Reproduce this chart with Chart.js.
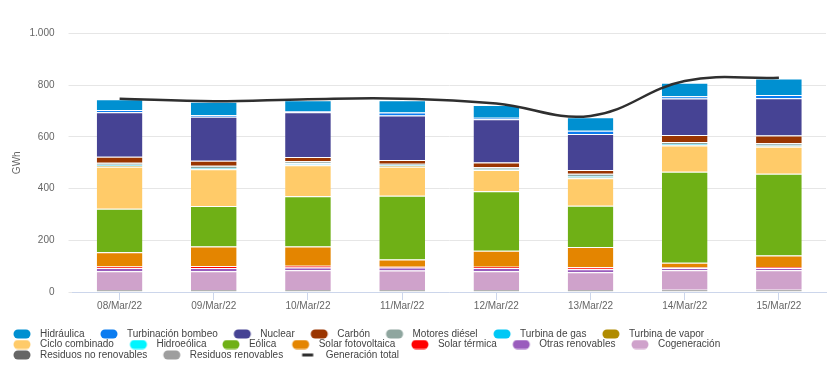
<!DOCTYPE html>
<html lang="es">
<head>
<meta charset="utf-8">
<title>Generación por tecnología</title>
<script src="https://cdn.jsdelivr.net/npm/chart.js@4/dist/chart.umd.min.js"></script>
<style>
  html, body { margin: 0; padding: 0; background: #fff; }
  #wrap { width: 833px; height: 375px; position: relative; }
</style>
</head>
<body>
<div id="wrap"><canvas id="chart"></canvas></div>
<script>
// days on the x axis
const dias = ['08/Mar/22', '09/Mar/22', '10/Mar/22', '11/Mar/22', '12/Mar/22', '13/Mar/22', '14/Mar/22', '15/Mar/22'];

// GWh per technology
const hidraulica = [42, 52, 42, 48, 49, 52, 52, 64];
const turbinacionBombeo = [9, 6, 5, 11, 6, 13, 8, 12];
const nuclear = [172, 170, 173, 172, 167, 139, 142, 145];
const carbon = [23, 20, 16, 15, 18, 15, 27, 30];
const motoresDiesel = [8, 8, 8, 6, 6, 8, 8, 8];
const turbinaGas = [4, 3, 5, 3, 3, 6, 3, 3];
const turbinaVapor = [3, 2, 3, 2, 2, 3, 2, 2];
const cicloCombinado = [163, 142, 120, 113, 82, 106, 102, 105];
const hidroeolica = [0, 0, 0, 0, 0, 0, 0, 0];
const eolica = [168, 157, 194, 246, 230, 160, 352, 316];
const solarFotovoltaica = [55, 76, 74, 28, 62, 78, 18, 44];
const solarTermica = [6, 7, 7, 3, 5, 8, 2, 4];
const otrasRenovables = [13, 13, 11, 12, 13, 12, 9, 9];
const cogeneracion = [72, 72, 76, 75, 72, 68, 75, 75];
const residuosNoRenovables = [5, 5, 5, 5, 5, 5, 6, 6];
const residuosRenovables = [3, 3, 3, 3, 3, 3, 3, 3];
const generacionTotal = [748, 738, 746, 748, 729, 681, 816, 829];

const yTicks = [0, 200, 400, 600, 800, 1000];

// legend order (top of the stack first)
const series = [
    ['Hidráulica', hidraulica, '#0090d1'],
    ['Turbinación bombeo', turbinacionBombeo, '#0b7cf0'],
    ['Nuclear', nuclear, '#464394'],
    ['Carbón', carbon, '#9a3500'],
    ['Motores diésel', motoresDiesel, '#8fa69f'],
    ['Turbina de gas', turbinaGas, '#00c8f5'],
    // trailing nbsp keeps "Ciclo combinado" on the second legend row
    ['Turbina de vapor\u00a0\u00a0\u00a0\u00a0\u00a0', turbinaVapor, '#b08b00'],
    ['Ciclo combinado', cicloCombinado, '#ffcb69'],
    ['Hidroeólica', hidroeolica, '#00f5ff'],
    ['Eólica', eolica, '#6fb016'],
    ['Solar fotovoltaica', solarFotovoltaica, '#e48500'],
    ['Solar térmica', solarTermica, '#ff0000'],
    ['Otras renovables', otrasRenovables, '#9a5cbd'],
    ['Cogeneración', cogeneracion, '#cfa2cb'],
    ['Residuos no renovables', residuosNoRenovables, '#666666'],
    ['Residuos renovables', residuosRenovables, '#9e9e9e']
];

function legendSymbol(color, isLine) {
    const c = document.createElement('canvas');
    c.width = 37;
    c.height = 10;
    const g = c.getContext('2d');
    g.fillStyle = color;
    if (isLine) {
        g.fillRect(18.5, 3.5, 11, 3);
    } else {
        g.beginPath();
        g.roundRect(15.5, 0.5, 17, 9, 4.5);
        g.fill();
    }
    return c;
}

// chart.js stacks from the first dataset up, so bars go in reverse and the legend is reversed back
const datasets = [{
    type: 'line',
    label: 'Generación total',
    data: generacionTotal,
    borderColor: '#2f2f2f',
    backgroundColor: '#2f2f2f',
    borderWidth: 2.5,
    tension: 0.4,
    pointRadius: 0,
    fill: false,
    stack: 'total',
    order: -1
}];
series.slice().reverse().forEach(function (s) {
    datasets.push({
        type: 'bar',
        label: s[0],
        data: s[1],
        backgroundColor: s[2],
        borderColor: '#ffffff',
        borderWidth: { top: 1, right: 0, bottom: 0, left: 0 },
        borderSkipped: false,
        stack: 'mix',
        barPercentage: 0.485,
        categoryPercentage: 1
    });
});

const font = { family: '"Liberation Sans", Arial, sans-serif', size: 10 };

new Chart(document.getElementById('chart'), {
    type: 'bar',
    data: { labels: dias, datasets: datasets },
    options: {
        responsive: true,
        maintainAspectRatio: false,
        animation: false,
        layout: { padding: { top: 33.5, right: 7, bottom: 5, left: -2.5 } },
        scales: {
            x: {
                stacked: true,
                border: { color: '#ccd6eb' },
                grid: {
                    offset: false,
                    drawOnChartArea: false,
                    drawTicks: true,
                    tickLength: 8,
                    color: '#ccd6eb'
                },
                ticks: { color: '#666', font: font, padding: 0, maxRotation: 0 },
                afterFit: function (scale) { scale.height = 36.5; }
            },
            y: {
                stacked: true,
                min: 0,
                max: 1000,
                border: { display: false },
                grid: { color: '#e6e6e6', tickLength: 4 },
                afterBuildTicks: function (scale) {
                    scale.ticks = yTicks.map(v => ({ value: v }));
                },
                ticks: {
                    color: '#666',
                    font: font,
                    padding: 14,
                    callback: v => String(v).replace(/\B(?=(\d{3})+(?!\d))/g, '.')
                },
                title: {
                    display: true,
                    text: 'GWh',
                    color: '#666',
                    font: font,
                    padding: { top: 13.5, bottom: 0 }
                },
                afterFit: function (scale) { scale.width = 75; }
            }
        },
        plugins: {
            tooltip: { enabled: false },
            legend: {
                position: 'bottom',
                align: 'start',
                reverse: true,
                labels: {
                    color: '#444',
                    font: font,
                    padding: 0.5,
                    usePointStyle: true,
                    pointStyleWidth: 37,
                    boxHeight: 10,
                    generateLabels: function (chart) {
                        const items = Chart.defaults.plugins.legend.labels.generateLabels(chart);
                        items.forEach(function (it) {
                            const ds = chart.data.datasets[it.datasetIndex];
                            const isLine = ds.type === 'line';
                            it.pointStyle = legendSymbol(isLine ? ds.borderColor : ds.backgroundColor, isLine);
                        });
                        return items;
                    }
                }
            }
        }
    }
});
</script>
</body>
</html>
